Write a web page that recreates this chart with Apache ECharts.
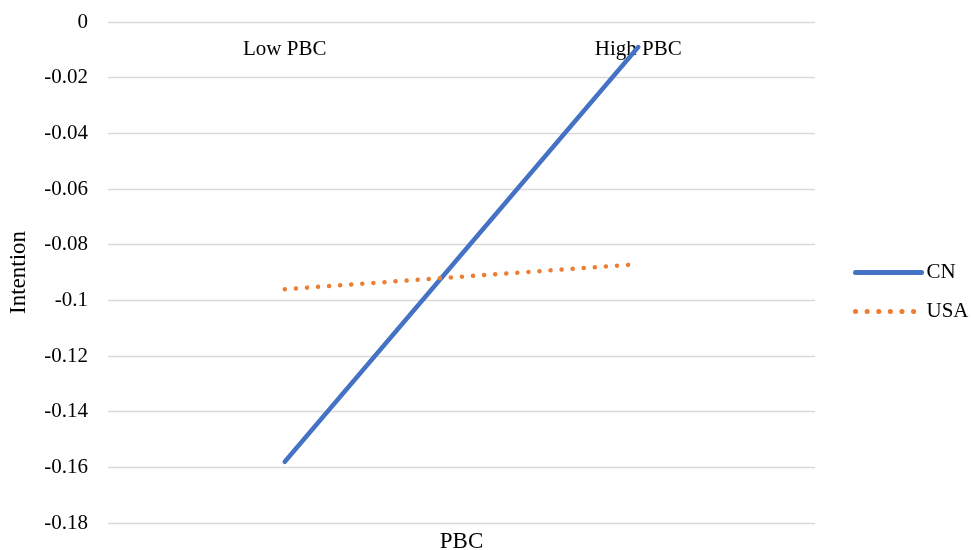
<!DOCTYPE html>
<html>
<head>
<meta charset="utf-8">
<script src="https://cdn.jsdelivr.net/npm/echarts@6/dist/echarts.min.js"></script>
<style>html,body{margin:0;padding:0;background:#fff;}#c{width:971px;height:550px;}</style>
</head>
<body>
<div id="c"></div>
<script>
const categories = ['Low PBC', 'High PBC'];
const cnValues = [-0.158, -0.009];
const usaValues = [-0.096, -0.087];
const seriesNames = ['CN', 'USA'];

const font = 'Liberation Serif';
const chart = echarts.init(document.getElementById('c'));
chart.setOption({
  backgroundColor: '#fff',
  animation: false,
  grid: { left: 108, right: 156, top: 22, bottom: 27, containLabel: false, outerBoundsMode: 'none' },
  legend: {
    orient: 'vertical', left: 848, top: 257, itemWidth: 66, itemHeight: 14, itemGap: 18,
    textStyle: { fontFamily: font, fontSize: 21, color: '#000' },
    itemStyle: { opacity: 0 },
    data: [
      { name: seriesNames[0], lineStyle: { width: 5 } },
      { name: seriesNames[1], lineStyle: { width: 5, type: [0.1, 11.5] } }
    ]
  },
  xAxis: [{
    type: 'category', data: categories, position: 'top', boundaryGap: true,
    axisLine: { show: false }, axisTick: { show: false },
    axisLabel: { inside: true, margin: 17, fontFamily: font, fontSize: 21, color: '#000' }
  }, {
    type: 'category', data: categories, position: 'bottom',
    axisLine: { show: false }, axisTick: { show: false }, axisLabel: { show: false },
    name: 'PBC', nameLocation: 'middle', nameGap: 7,
    nameTextStyle: { fontFamily: font, fontSize: 23, color: '#000' }
  }],
  yAxis: {
    type: 'value', min: -0.18, max: 0, interval: 0.02,
    name: 'Intention', nameLocation: 'middle', nameGap: 78, nameRotate: 90,
    nameTextStyle: { fontFamily: font, fontSize: 23, color: '#000' },
    axisLine: { show: false }, axisTick: { show: false },
    axisLabel: { margin: 20, fontFamily: font, fontSize: 21, color: '#000',
      formatter: v => (Math.round(v * 100) / 100).toString() },
    splitLine: { lineStyle: { color: '#d9d9d9', width: 1.3 } }
  },
  series: [{
    name: seriesNames[0], type: 'line', data: cnValues, symbol: 'none',
    lineStyle: { color: '#4472C4', width: 4.5, cap: 'round' }, itemStyle: { color: '#4472C4' }
  }, {
    name: seriesNames[1], type: 'line', data: usaValues, symbol: 'none',
    lineStyle: { color: '#ED7D31', width: 4.5, type: [0.1, 11], cap: 'round' }, itemStyle: { color: '#ED7D31' }
  }]
});
</script>
</body>
</html>
